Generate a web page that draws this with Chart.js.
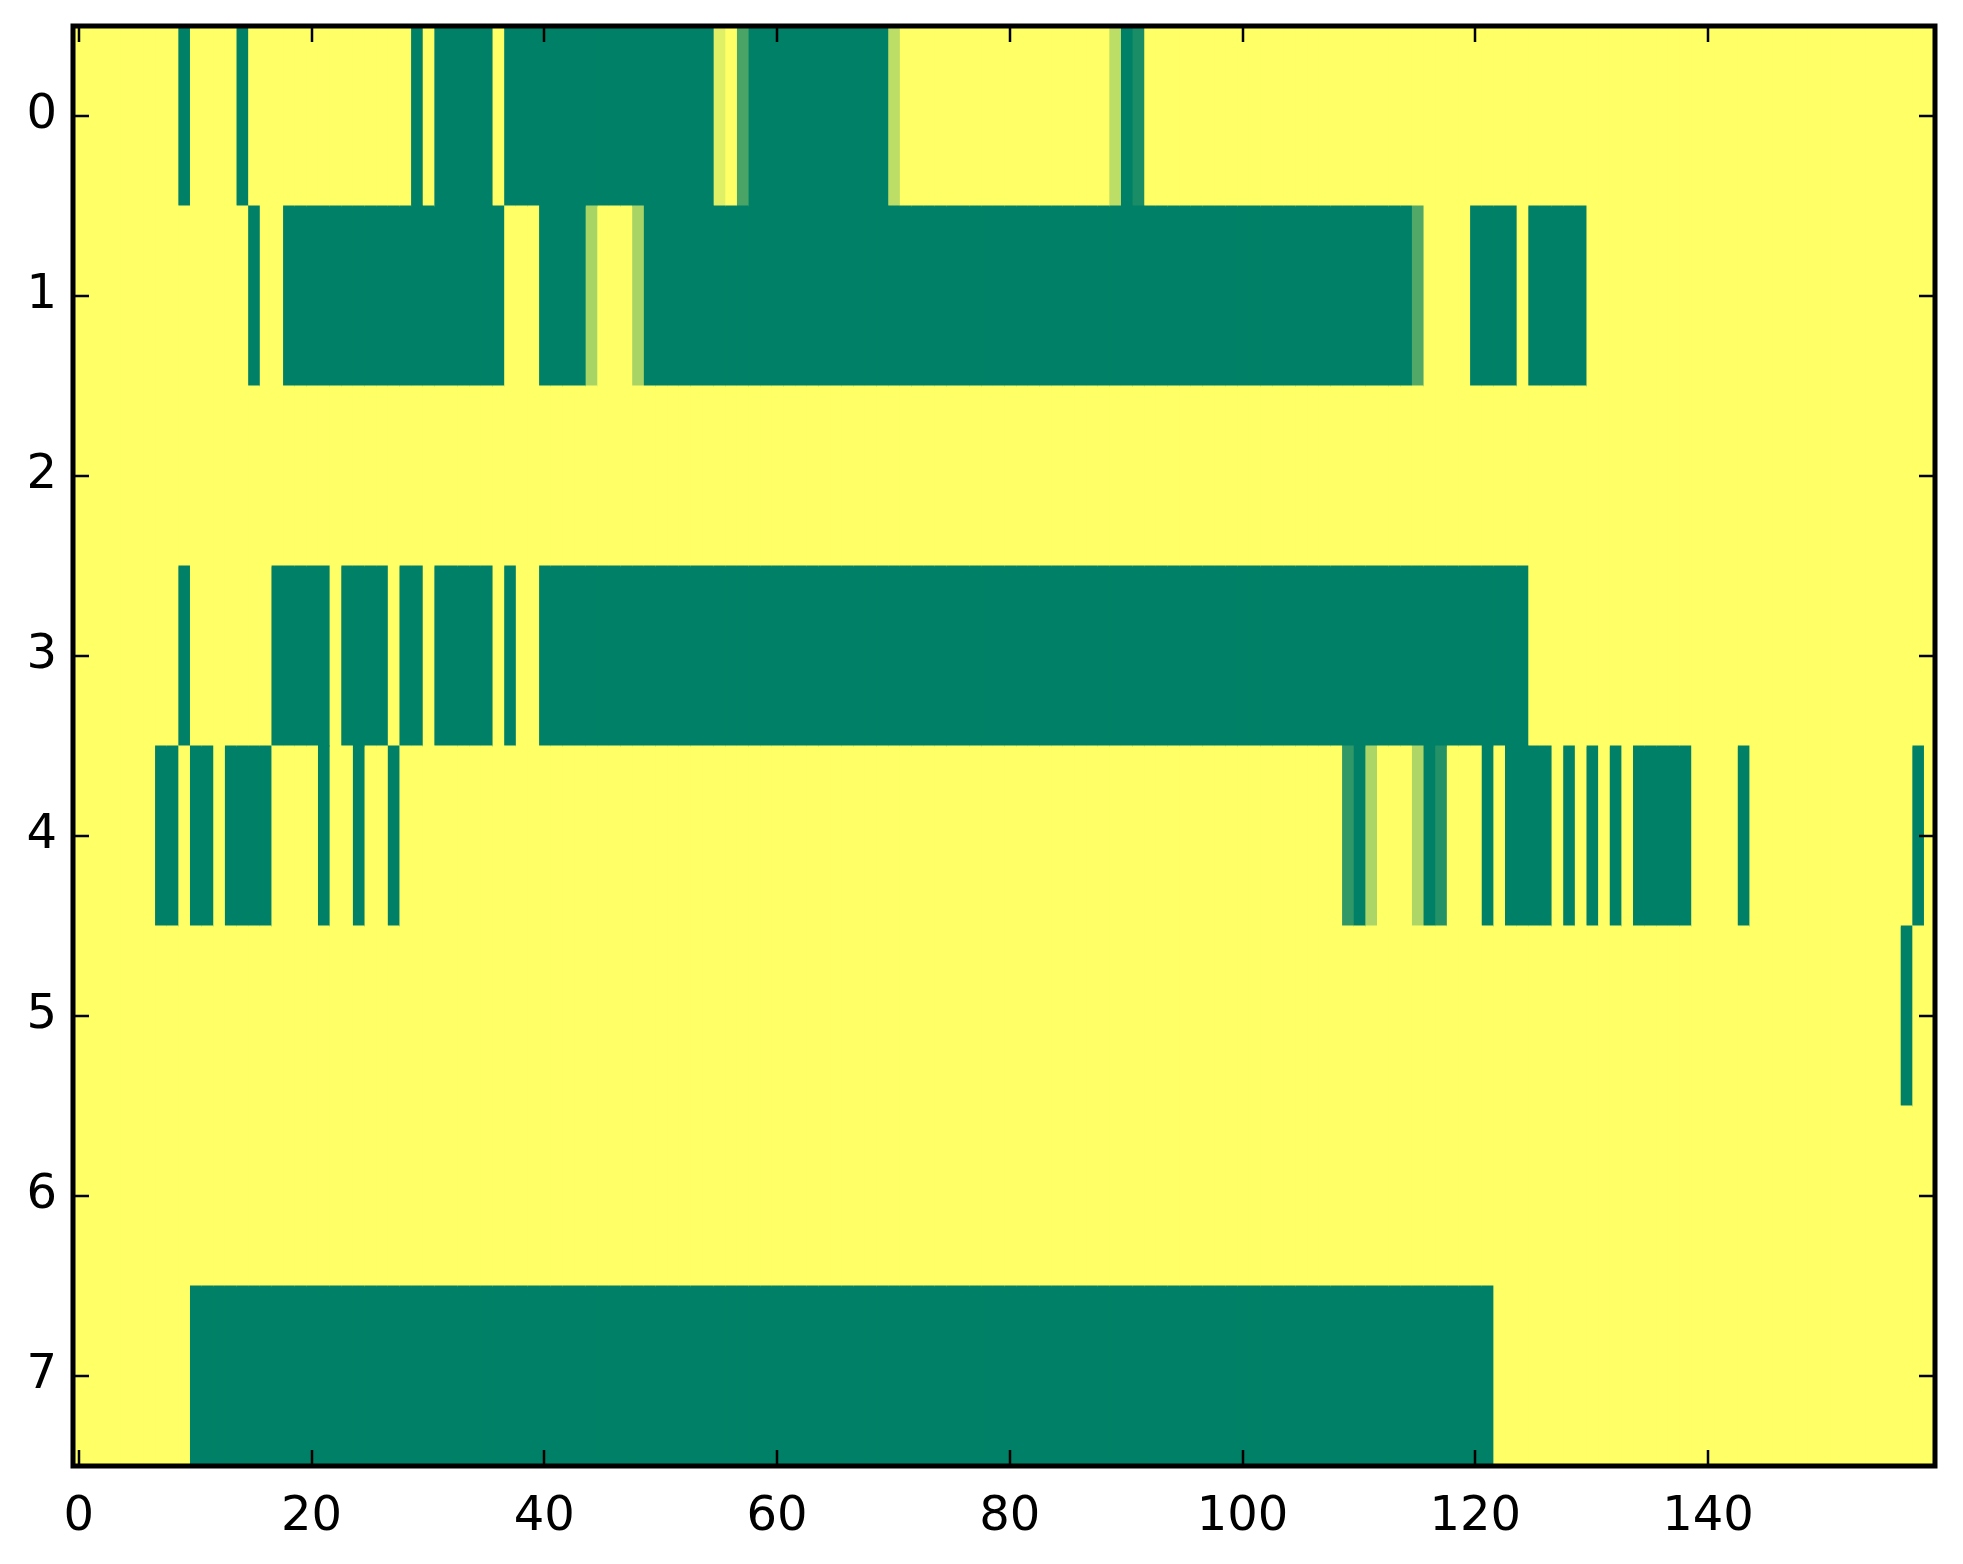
<!DOCTYPE html>
<html>
<head>
<meta charset="utf-8">
<title>Heatmap</title>
<script src="https://cdn.jsdelivr.net/npm/chart.js@4.4.1/dist/chart.umd.min.js"></script>
<style>
  html, body { margin: 0; padding: 0; background: #ffffff; }
  #wrap { width: 1963px; height: 1564px; }
</style>
</head>
<body>
<div id="wrap"><canvas id="heatmap" width="1963" height="1564"></canvas></div>
<script>
// Row labels (y axis) and x tick values
const ROW_LABELS = ["0", "1", "2", "3", "4", "5", "6", "7"];
const X_TICKS = [0, 20, 40, 60, 80, 100, 120, 140];

// Cell values per row, 0 = dark green, 1 = yellow (columns 0..159)
const ROW_0 = [
  1,1,1,1,1,1,1,1,1,0, 1,1,1,1,0,1,1,1,1,1,
  1,1,1,1,1,1,1,1,1,0, 1,0,0,0,0,0,1,0,0,0,
  0,0,0,0,0,0,0,0,0,0, 0,0,0,0,0,0.88,1,0.29,0,0,
  0,0,0,0,0,0,0,0,0,0, 0.74,1,1,1,1,1,1,1,1,1,
  1,1,1,1,1,1,1,1,1,0.74, 0,0.1,1,1,1,1,1,1,1,1,
  1,1,1,1,1,1,1,1,1,1, 1,1,1,1,1,1,1,1,1,1,
  1,1,1,1,1,1,1,1,1,1, 1,1,1,1,1,1,1,1,1,1,
  1,1,1,1,1,1,1,1,1,1, 1,1,1,1,1,1,1,1,1,1
];
const ROW_1 = [
  1,1,1,1,1,1,1,1,1,1, 1,1,1,1,1,0,1,1,0,0,
  0,0,0,0,0,0,0,0,0,0, 0,0,0,0,0,0,0,1,1,1,
  0,0,0,0,0.66,1,1,1,0.66,0, 0,0,0,0,0,0,0,0,0,0,
  0,0,0,0,0,0,0,0,0,0, 0,0,0,0,0,0,0,0,0,0,
  0,0,0,0,0,0,0,0,0,0, 0,0,0,0,0,0,0,0,0,0,
  0,0,0,0,0,0,0,0,0,0, 0,0,0,0,0,0.32,1,1,1,1,
  0,0,0,0,1,0,0,0,0,0, 1,1,1,1,1,1,1,1,1,1,
  1,1,1,1,1,1,1,1,1,1, 1,1,1,1,1,1,1,1,1,1
];
const ROW_2 = [
  1,1,1,1,1,1,1,1,1,1, 1,1,1,1,1,1,1,1,1,1,
  1,1,1,1,1,1,1,1,1,1, 1,1,1,1,1,1,1,1,1,1,
  1,1,1,1,1,1,1,1,1,1, 1,1,1,1,1,1,1,1,1,1,
  1,1,1,1,1,1,1,1,1,1, 1,1,1,1,1,1,1,1,1,1,
  1,1,1,1,1,1,1,1,1,1, 1,1,1,1,1,1,1,1,1,1,
  1,1,1,1,1,1,1,1,1,1, 1,1,1,1,1,1,1,1,1,1,
  1,1,1,1,1,1,1,1,1,1, 1,1,1,1,1,1,1,1,1,1,
  1,1,1,1,1,1,1,1,1,1, 1,1,1,1,1,1,1,1,1,1
];
const ROW_3 = [
  1,1,1,1,1,1,1,1,1,0, 1,1,1,1,1,1,1,0,0,0,
  0,0,1,0,0,0,0,1,0,0, 1,0,0,0,0,0,1,0,1,1,
  0,0,0,0,0,0,0,0,0,0, 0,0,0,0,0,0,0,0,0,0,
  0,0,0,0,0,0,0,0,0,0, 0,0,0,0,0,0,0,0,0,0,
  0,0,0,0,0,0,0,0,0,0, 0,0,0,0,0,0,0,0,0,0,
  0,0,0,0,0,0,0,0,0,0, 0,0,0,0,0,0,0,0,0,0,
  0,0,0,0,0,1,1,1,1,1, 1,1,1,1,1,1,1,1,1,1,
  1,1,1,1,1,1,1,1,1,1, 1,1,1,1,1,1,1,1,1,1
];
const ROW_4 = [
  1,1,1,1,1,1,1,0,0,1, 0,0,1,0,0,0,0,1,1,1,
  1,0,1,1,0,1,1,0,1,1, 1,1,1,1,1,1,1,1,1,1,
  1,1,1,1,1,1,1,1,1,1, 1,1,1,1,1,1,1,1,1,1,
  1,1,1,1,1,1,1,1,1,1, 1,1,1,1,1,1,1,1,1,1,
  1,1,1,1,1,1,1,1,1,1, 1,1,1,1,1,1,1,1,1,1,
  1,1,1,1,1,1,1,1,1,0.19, 0,0.67,1,1,1,0.68,0,0.14,1,1,
  1,0,1,0,0,0,0,1,0,1, 0,1,0,1,0,0,0,0,0,1,
  1,1,1,0,1,1,1,1,1,1, 1,1,1,1,1,1,1,1,0,1
];
const ROW_5 = [
  1,1,1,1,1,1,1,1,1,1, 1,1,1,1,1,1,1,1,1,1,
  1,1,1,1,1,1,1,1,1,1, 1,1,1,1,1,1,1,1,1,1,
  1,1,1,1,1,1,1,1,1,1, 1,1,1,1,1,1,1,1,1,1,
  1,1,1,1,1,1,1,1,1,1, 1,1,1,1,1,1,1,1,1,1,
  1,1,1,1,1,1,1,1,1,1, 1,1,1,1,1,1,1,1,1,1,
  1,1,1,1,1,1,1,1,1,1, 1,1,1,1,1,1,1,1,1,1,
  1,1,1,1,1,1,1,1,1,1, 1,1,1,1,1,1,1,1,1,1,
  1,1,1,1,1,1,1,1,1,1, 1,1,1,1,1,1,1,0,1,1
];
const ROW_6 = [
  1,1,1,1,1,1,1,1,1,1, 1,1,1,1,1,1,1,1,1,1,
  1,1,1,1,1,1,1,1,1,1, 1,1,1,1,1,1,1,1,1,1,
  1,1,1,1,1,1,1,1,1,1, 1,1,1,1,1,1,1,1,1,1,
  1,1,1,1,1,1,1,1,1,1, 1,1,1,1,1,1,1,1,1,1,
  1,1,1,1,1,1,1,1,1,1, 1,1,1,1,1,1,1,1,1,1,
  1,1,1,1,1,1,1,1,1,1, 1,1,1,1,1,1,1,1,1,1,
  1,1,1,1,1,1,1,1,1,1, 1,1,1,1,1,1,1,1,1,1,
  1,1,1,1,1,1,1,1,1,1, 1,1,1,1,1,1,1,1,1,1
];
const ROW_7 = [
  1,1,1,1,1,1,1,1,1,1, 0,0,0,0,0,0,0,0,0,0,
  0,0,0,0,0,0,0,0,0,0, 0,0,0,0,0,0,0,0,0,0,
  0,0,0,0,0,0,0,0,0,0, 0,0,0,0,0,0,0,0,0,0,
  0,0,0,0,0,0,0,0,0,0, 0,0,0,0,0,0,0,0,0,0,
  0,0,0,0,0,0,0,0,0,0, 0,0,0,0,0,0,0,0,0,0,
  0,0,0,0,0,0,0,0,0,0, 0,0,0,0,0,0,0,0,0,0,
  0,0,1,1,1,1,1,1,1,1, 1,1,1,1,1,1,1,1,1,1,
  1,1,1,1,1,1,1,1,1,1, 1,1,1,1,1,1,1,1,1,1
];

const ROWS = [ROW_0, ROW_1, ROW_2, ROW_3, ROW_4, ROW_5, ROW_6, ROW_7];
const N_COLS = ROW_0.length;

// matplotlib "summer" colormap
function summer(v) {
  const r = Math.round(255 * v);
  const g = Math.round(255 * (0.5 + 0.5 * v));
  return `rgb(${r},${g},102)`;
}

// one dataset per column, one floating bar per row
const datasets = [];
for (let c = 0; c < N_COLS; c++) {
  datasets.push({
    data: ROWS.map(() => [c - 0.5, c + 0.5]),
    backgroundColor: ROWS.map((row) => summer(row[c])),
    borderWidth: 0,
    grouped: false,
    barPercentage: 1,
    categoryPercentage: 1,
    inflateAmount: 0.6,
  });
}

// axes frame with inward ticks on all four sides
const framePlugin = {
  id: "frame",
  afterDraw(chart) {
    const ctx = chart.ctx;
    const a = chart.chartArea;
    const xs = chart.scales.x;
    const ys = chart.scales.y;
    const tick = 16;
    ctx.save();
    ctx.strokeStyle = "#000";
    ctx.lineWidth = 2.5;
    ctx.beginPath();
    X_TICKS.forEach((v) => {
      const px = Math.round(xs.getPixelForValue(v));
      ctx.moveTo(px, a.bottom);
      ctx.lineTo(px, a.bottom - tick);
      ctx.moveTo(px, a.top);
      ctx.lineTo(px, a.top + tick);
    });
    ROW_LABELS.forEach((_, i) => {
      const py = Math.round(ys.getPixelForTick(i));
      ctx.moveTo(a.left, py);
      ctx.lineTo(a.left + tick, py);
      ctx.moveTo(a.right, py);
      ctx.lineTo(a.right - tick, py);
    });
    ctx.stroke();
    ctx.lineWidth = 5;
    ctx.strokeRect(a.left, a.top, a.right - a.left, a.bottom - a.top);
    ctx.restore();
  },
};

Chart.defaults.font.family = "'DejaVu Sans', sans-serif";
Chart.defaults.color = "#000";

new Chart(document.getElementById("heatmap"), {
  type: "bar",
  data: { labels: ROW_LABELS, datasets: datasets },
  options: {
    indexAxis: "y",
    responsive: false,
    devicePixelRatio: 1,
    animation: false,
    layout: { padding: { top: 26, right: 28, left: 0, bottom: 0 } },
    scales: {
      x: {
        type: "linear",
        position: "bottom",
        min: -0.5,
        max: N_COLS - 0.5,
        afterBuildTicks: (scale) => {
          scale.ticks = X_TICKS.map((v) => ({ value: v }));
        },
        afterFit: (scale) => {
          scale.height = 98;
          scale.paddingLeft = 0;
          scale.paddingRight = 0;
        },
        ticks: {
          font: { size: 48 },
          color: "#000",
          padding: 15,
          maxRotation: 0,
          autoSkip: false,
        },
        grid: { display: false },
        border: { display: false },
      },
      y: {
        type: "category",
        offset: true,
        afterFit: (scale) => {
          scale.width = 73;
          scale.paddingTop = 0;
          scale.paddingBottom = 0;
        },
        ticks: {
          font: { size: 48 },
          color: "#000",
          padding: 8,
        },
        grid: { display: false },
        border: { display: false },
      },
    },
    plugins: {
      legend: { display: false },
      tooltip: { enabled: false },
    },
  },
  plugins: [framePlugin],
});
</script>
</body>
</html>
